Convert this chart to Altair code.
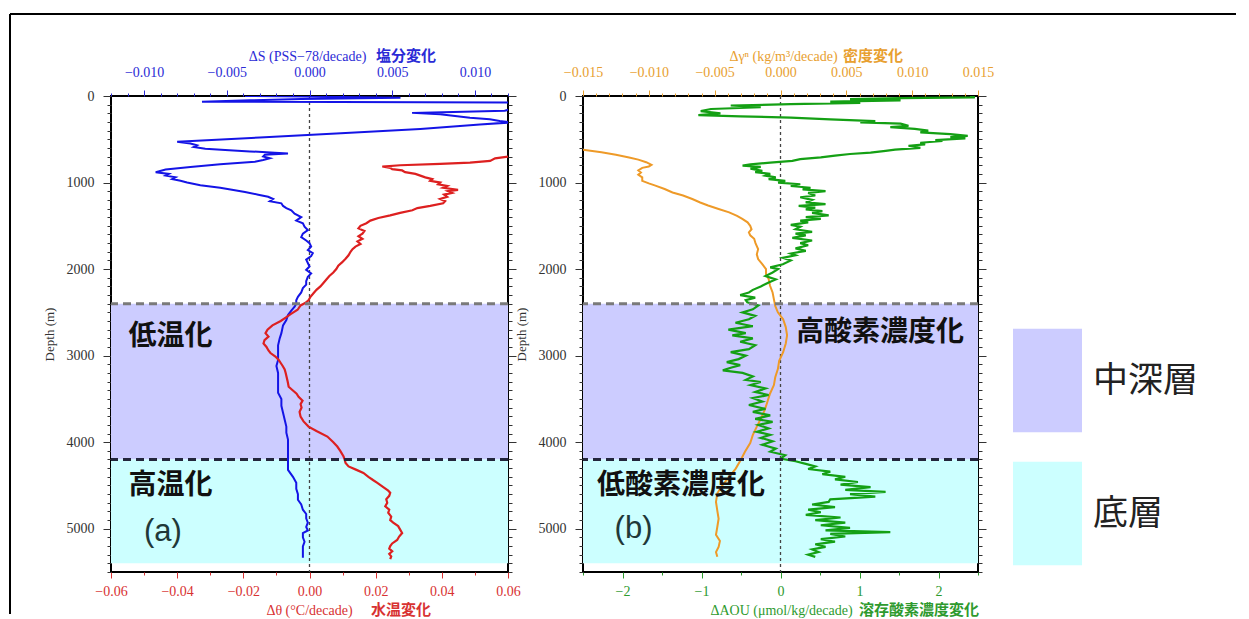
import altair as alt
import pandas as pd

# ---------------- data ----------------
temp_depth = [700, 720, 750, 770, 785, 800, 815, 830, 845, 860, 880, 900, 920, 940, 960, 980, 1000, 1020, 1040, 1060,
              1085, 1100, 1120, 1140, 1165, 1190, 1215, 1240, 1270, 1295, 1320, 1350, 1380, 1410, 1440, 1470, 1500,
              1530, 1560, 1590, 1620, 1650, 1680, 1710, 1740, 1770, 1800, 1840, 1880, 1920, 1960, 2000, 2040, 2080,
              2120, 2160, 2200, 2240, 2280, 2320, 2360, 2390, 2420, 2470, 2520, 2560, 2600, 2650, 2700, 2740, 2780,
              2820, 2860, 2900, 2940, 2970, 3010, 3050, 3085, 3120, 3160, 3200, 3250, 3300, 3360, 3400, 3440, 3475,
              3520, 3560, 3600, 3650, 3705, 3760, 3820, 3870, 3935, 4000, 4050, 4100, 4165, 4200, 4240, 4280, 4320,
              4355, 4400, 4440, 4470, 4520, 4560, 4585, 4620, 4660, 4700, 4740, 4780, 4815, 4860, 4900, 4930, 4970,
              5010, 5050, 5090, 5130, 5170, 5200, 5230, 5260, 5290, 5320, 5350]
temp_val = [0.0600, 0.0561, 0.0546, 0.0485, 0.0395, 0.0274, 0.0220, 0.0244, 0.0250, 0.0280, 0.0289, 0.0320, 0.0335,
            0.0350, 0.0371, 0.0365, 0.0395, 0.0389, 0.0416, 0.0404, 0.0449, 0.0419, 0.0431, 0.0407, 0.0416, 0.0395,
            0.0410, 0.0404, 0.0365, 0.0326, 0.0311, 0.0274, 0.0244, 0.0208, 0.0184, 0.0172, 0.0154, 0.0148, 0.0166,
            0.0160, 0.0148, 0.0160, 0.0145, 0.0154, 0.0139, 0.0130, 0.0124, 0.0118, 0.0109, 0.0099, 0.0087, 0.0081,
            0.0072, 0.0060, 0.0051, 0.0042, 0.0033, 0.0021, 0.0012, 0.0003, -0.0003, -0.0012, -0.0027, -0.0036,
            -0.0057, -0.0072, -0.0087, -0.0112, -0.0127, -0.0133, -0.0124, -0.0136, -0.0139, -0.0130, -0.0124,
            -0.0118, -0.0103, -0.0093, -0.0087, -0.0081, -0.0075, -0.0072, -0.0069, -0.0066, -0.0063, -0.0051,
            -0.0039, -0.0033, -0.0021, -0.0027, -0.0024, -0.0030, -0.0027, -0.0018, -0.0003, 0.0021, 0.0054, 0.0072,
            0.0084, 0.0093, 0.0103, 0.0106, 0.0109, 0.0118, 0.0142, 0.0163, 0.0178, 0.0193, 0.0205, 0.0223, 0.0238,
            0.0244, 0.0241, 0.0232, 0.0235, 0.0229, 0.0241, 0.0238, 0.0247, 0.0244, 0.0253, 0.0268, 0.0274, 0.0280,
            0.0271, 0.0265, 0.0250, 0.0244, 0.0241, 0.0250, 0.0241, 0.0247, 0.0244]

sal_depth = [0, 10, 20, 35, 50, 65, 75, 100, 140, 170, 195, 210, 230, 250, 270, 290, 305, 330, 380, 430, 480, 530,
             550, 570, 590, 610, 625, 640, 655, 665, 680, 700, 720, 740, 760, 790, 820, 850, 880, 900, 920, 940, 960,
             980, 1000, 1030, 1060, 1085, 1110, 1140, 1165, 1190, 1215, 1240, 1270, 1295, 1320, 1360, 1400, 1440,
             1470, 1510, 1550, 1590, 1630, 1670, 1700, 1740, 1780, 1815, 1850, 1890, 1930, 1970, 2010, 2050, 2090,
             2140, 2180, 2220, 2270, 2320, 2360, 2400, 2435, 2480, 2530, 2590, 2650, 2740, 2800, 2880, 2970, 3050,
             3120, 3200, 3280, 3350, 3430, 3500, 3580, 3660, 3740, 3820, 3890, 3970, 4050, 4120, 4200, 4260, 4320,
             4400, 4470, 4540, 4600, 4665, 4720, 4780, 4830, 4880, 4930, 4980, 5020, 5050, 5100, 5150, 5205, 5260,
             5300, 5335]
sal_val = [-0.0039, 0.0013, 0.0055, -0.0005, -0.0036, -0.0065, 0.0125, 0.0127, 0.0124, 0.0118, 0.0062, 0.0079,
           0.0088, 0.0097, 0.0109, 0.0115, 0.0122, 0.0103, 0.0067, 0.0019, -0.0030, -0.0080, -0.0072, -0.0068,
           -0.0070, -0.0063, -0.0051, -0.0036, -0.0021, -0.0013, -0.0027, -0.0028, -0.0024, -0.0028, -0.0033,
           -0.0054, -0.0072, -0.0087, -0.0093, -0.0085, -0.0087, -0.0081, -0.0083, -0.0078, -0.0074, -0.0066,
           -0.0054, -0.0046, -0.0039, -0.0031, -0.0025, -0.0022, -0.0024, -0.0017, -0.0016, -0.0014, -0.0011,
           -0.0009, -0.0005, -0.0008, -0.0004, -0.0003, -0.0001, -0.0004, -0.0005, -0.0002, 0.0000, 0.0001, -0.0001,
           0.0002, 0.0001, -0.0002, -0.0001, 0.0000, -0.0002, 0.0001, -0.0001, -0.0002, -0.0002, -0.0004, -0.0005,
           -0.0007, -0.0008, -0.0008, -0.0009, -0.0011, -0.0013, -0.0014, -0.0016, -0.0017, -0.0018, -0.0019,
           -0.0019, -0.0019, -0.0020, -0.0019, -0.0019, -0.0019, -0.0019, -0.0017, -0.0017, -0.0016, -0.0015,
           -0.0014, -0.0014, -0.0013, -0.0013, -0.0013, -0.0013, -0.0013, -0.0013, -0.0010, -0.0008, -0.0008,
           -0.0007, -0.0007, -0.0005, -0.0004, -0.0002, -0.0002, -0.0001, -0.0002, -0.0001, -0.0004, -0.0004,
           -0.0003, -0.0004, -0.0004, -0.0004, -0.0004]

dens_depth = [620, 650, 680, 710, 735, 765, 795, 815, 830, 860, 885, 910, 940, 980, 1010, 1035, 1075, 1115, 1150,
              1190, 1230, 1265, 1305, 1345, 1385, 1420, 1460, 1500, 1540, 1575, 1610, 1650, 1700, 1770, 1830, 1885,
              1940, 2000, 2060, 2115, 2190, 2270, 2350, 2425, 2500, 2580, 2670, 2765, 2860, 2960, 3060, 3155, 3250,
              3340, 3440, 3535, 3630, 3730, 3820, 3915, 4010, 4110, 4200, 4305, 4400, 4495, 4590, 4690, 4790, 4885,
              4980, 5070, 5140, 5210, 5270, 5325]
dens_val = [-0.0150, -0.0136, -0.0125, -0.0115, -0.0108, -0.0102, -0.0098, -0.0100, -0.0105, -0.0108, -0.0106,
            -0.0108, -0.0105, -0.0105, -0.0100, -0.0095, -0.0088, -0.0082, -0.0074, -0.0067, -0.0061, -0.0055,
            -0.0047, -0.0039, -0.0033, -0.0029, -0.0025, -0.0023, -0.0022, -0.0024, -0.0023, -0.0020, -0.0019,
            -0.0017, -0.0018, -0.0017, -0.0014, -0.0011, -0.0011, -0.0009, -0.0008, -0.0006, -0.0005, -0.0004,
            -0.0002, 0.0002, 0.0004, 0.0005, 0.0004, 0.0002, -0.0001, -0.0002, -0.0004, -0.0005, -0.0008, -0.0010,
            -0.0012, -0.0015, -0.0018, -0.0021, -0.0023, -0.0027, -0.0030, -0.0034, -0.0039, -0.0044, -0.0048,
            -0.0049, -0.0048, -0.0047, -0.0048, -0.0049, -0.0046, -0.0047, -0.0049, -0.0048]

aou_depth = [0, 15, 25, 35, 50, 65, 80, 95, 110, 130, 150, 175, 200, 220, 235, 250, 270, 290, 305, 320, 345, 360,
             380, 400, 420, 440, 460, 475, 490, 510, 520, 540, 560, 575, 600, 620, 635, 655, 670, 690, 710, 730, 750,
             770, 790, 805, 820, 840, 865, 880, 900, 920, 940, 960, 980, 1000, 1020, 1040, 1060, 1080, 1100, 1120,
             1150, 1170, 1200, 1230, 1250, 1270, 1290, 1310, 1330, 1350, 1380, 1400, 1420, 1440, 1460, 1490, 1510,
             1540, 1570, 1590, 1610, 1640, 1670, 1700, 1725, 1760, 1790, 1820, 1840, 1870, 1900, 1945, 1980, 2000,
             2040, 2080, 2120, 2155, 2200, 2240, 2270, 2300, 2330, 2360, 2385, 2420, 2465, 2500, 2540, 2580, 2620,
             2660, 2700, 2740, 2765, 2800, 2840, 2880, 2925, 2960, 3000, 3040, 3075, 3110, 3140, 3170, 3200, 3240,
             3280, 3305, 3340, 3380, 3420, 3455, 3490, 3530, 3570, 3615, 3650, 3690, 3730, 3765, 3800, 3840, 3880,
             3915, 3950, 3990, 4030, 4075, 4110, 4150, 4190, 4220, 4250, 4280, 4310, 4340, 4370, 4400, 4430, 4460,
             4490, 4520, 4550, 4575, 4600, 4630, 4660, 4690, 4720, 4750, 4780, 4810, 4840, 4870, 4900, 4930, 4960,
             4990, 5020, 5040, 5060, 5090, 5120, 5150, 5180, 5210, 5240, 5270, 5300, 5325]
aou_val = [2.40, 2.46, 1.52, 0.88, 1.52, 0.63, 1.01, 0.13, -0.63, -0.25, -0.88, -1.01, -0.76, -1.04, -0.51, 0.13,
           0.63, 1.20, 1.01, 1.52, 1.62, 1.39, 1.70, 1.87, 1.77, 2.15, 2.37, 2.15, 2.34, 1.96, 2.05, 1.77, 1.83,
           1.62, 1.77, 1.45, 1.33, 1.14, 0.88, 0.69, 0.51, 0.25, 0.15, -0.13, -0.38, -0.48, -0.25, -0.38, -0.23,
           -0.32, -0.13, -0.19, -0.06, -0.15, 0.06, -0.03, 0.25, 0.13, 0.38, 0.28, 0.57, 0.35, 0.44, 0.25, 0.40,
           0.32, 0.57, 0.23, 0.44, 0.32, 0.53, 0.40, 0.61, 0.32, 0.51, 0.25, 0.35, 0.13, 0.25, 0.19, 0.40, 0.19,
           0.32, 0.15, 0.40, 0.25, 0.35, 0.19, 0.32, 0.13, 0.19, 0.03, 0.13, 0.03, -0.13, -0.03, -0.10, -0.19,
           -0.06, -0.15, -0.25, -0.35, -0.40, -0.51, -0.32, -0.44, -0.42, -0.28, -0.35, -0.48, -0.32, -0.40,
           -0.57, -0.35, -0.66, -0.44, -0.61, -0.35, -0.51, -0.32, -0.40, -0.63, -0.44, -0.53, -0.68, -0.51, -0.63,
           -0.73, -0.48, -0.35, -0.44, -0.25, -0.38, -0.19, -0.32, -0.15, -0.35, -0.23, -0.40, -0.19, -0.35,
           -0.13, -0.32, -0.10, -0.28, -0.15, -0.30, -0.13, -0.25, -0.10, -0.23, -0.06, -0.13, 0.06, 0.00, 0.19,
           0.32, 0.44, 0.35, 0.63, 0.53, 0.82, 0.69, 0.98, 0.76, 1.14, 0.82, 1.33, 0.88, 1.20, 0.63, 0.61, 0.40,
           0.69, 0.35, 0.51, 0.32, 0.76, 0.44, 0.82, 0.51, 0.88, 0.57, 1.39, 0.63, 0.82, 0.51, 0.69, 0.44, 0.57,
           0.40, 0.48, 0.35, 0.44]

zones = ["中深層", "底層"]
zone_top = [2400, 4200]
zone_bottom = [4200, 5400]
zone_colors = ["#ccccff", "#ccffff"]
bound_depth = [2400, 4200]
bound_kind = ["upper", "lower"]
bound_colors = ["#7a7a7a", "#23263c"]

ann_a_labels = ["低温化", "高温化"]
ann_a_x = [-0.042, -0.042]
ann_a_depth = [2790, 4510]
panel_a_tag = ["(a)"]
panel_a_tag_x = [-0.0443]
panel_a_tag_depth = [5040]

ann_b_labels = ["高酸素濃度化", "低酸素濃度化"]
ann_b_x = [1.26, -1.26]
ann_b_depth = [2740, 4510]
panel_b_tag = ["(b)"]
panel_b_tag_x = [-1.86]
panel_b_tag_depth = [5000]

depth_ticks = list(range(0, 5501, 100))
temp_ticks = [-0.06, -0.05, -0.04, -0.03, -0.02, -0.01, 0.0, 0.01, 0.02, 0.03, 0.04, 0.05, 0.06]
sal_ticks = [-0.012, -0.011, -0.010, -0.009, -0.008, -0.007, -0.006, -0.005, -0.004, -0.003, -0.002, -0.001, 0.0,
             0.001, 0.002, 0.003, 0.004, 0.005, 0.006, 0.007, 0.008, 0.009, 0.010, 0.011, 0.012]
dens_ticks = [-0.015, -0.014, -0.013, -0.012, -0.011, -0.010, -0.009, -0.008, -0.007, -0.006, -0.005, -0.004,
              -0.003, -0.002, -0.001, 0.0, 0.001, 0.002, 0.003, 0.004, 0.005, 0.006, 0.007, 0.008, 0.009, 0.010,
              0.011, 0.012, 0.013, 0.014, 0.015]
aou_ticks = [-2.5, -2.0, -1.5, -1.0, -0.5, 0.0, 0.5, 1.0, 1.5, 2.0, 2.5]

temp_title = "Δθ (°C/decade)"
temp_title_jp = ["水温変化"]
sal_title = "ΔS (PSS−78/decade)"
sal_title_jp = ["塩分変化"]
dens_title = "Δγⁿ (kg/m³/decade)"
dens_title_jp = ["密度変化"]
aou_title = "ΔAOU (μmol/kg/decade)"
aou_title_jp = ["溶存酸素濃度変化"]

# ---------------- tables ----------------
temp_df = pd.DataFrame({"depth": temp_depth, "v": temp_val})
sal_df = pd.DataFrame({"depth": sal_depth, "v": sal_val})
dens_df = pd.DataFrame({"depth": dens_depth, "v": dens_val})
aou_df = pd.DataFrame({"depth": aou_depth, "v": aou_val})
zone_df = pd.DataFrame({"zone": zones, "top": zone_top, "bottom": zone_bottom})
bound_df = pd.DataFrame({"depth": bound_depth, "kind": bound_kind})
zero_df = pd.DataFrame({"v": [0.0]})
one_df = pd.DataFrame({"a": [0]})

SERIF = "Liberation Serif"
CJK = "Noto Sans CJK JP"
W1, W2, H = 397, 395, 476
TITLE_Y = 38

yscale = alt.Scale(domain=[0, 5500], reverse=True, nice=False, zero=False)


def tick_cond(test, major, minor):
    return {"condition": {"test": test, "value": major}, "value": minor}


def left_axis():
    return alt.Axis(orient="left", values=depth_ticks, format="d",
                    labelExpr="datum.value % 1000 == 0 ? datum.label : ''",
                    tickSize=tick_cond("datum.value % 1000 == 0", 8, 4),
                    labelFont=SERIF, labelFontSize=14, labelColor="#333333", labelPadding=9,
                    labelFlush=False, labelOverlap=False, tickColor="#333333", domain=False, grid=False,
                    title="Depth (m)", titleFont=SERIF, titleFontSize=13, titleFontWeight="normal",
                    titleColor="#333333", titlePadding=10)


def right_axis():
    return alt.Axis(orient="right", values=depth_ticks, labels=False, title=None,
                    tickSize=tick_cond("datum.value % 1000 == 0", 8, 4),
                    tickColor="#333333", domain=False, grid=False)


def x_axis(orient, ticks, fmt, test, color, title, title_x, title_y, pad):
    return alt.Axis(orient=orient, values=ticks,
                    labelExpr=f"{test} ? format(datum.value, '{fmt}') : ''",
                    tickSize=tick_cond(test, 6, 3), tickColor=color,
                    labelFont=SERIF, labelFontSize=14, labelColor=color, labelPadding=pad,
                    labelFlush=False, labelOverlap=False, domain=False, grid=False,
                    title=title, titleFont=SERIF, titleFontSize=14, titleFontWeight="normal",
                    titleColor=color, titleX=title_x, titleY=title_y, titleBaseline="middle")


def panel(width, line_bottom, line_top, bottom_scale, top_scale, bottom_axis, top_axis,
          bottom_color, top_color, ann, tag, jp_top, jp_bottom, legend, frame):
    shade = alt.Chart(zone_df).mark_rect().encode(
        y=alt.Y("top:Q", scale=yscale, axis=None),
        y2="bottom:Q",
        color=alt.Color("zone:N", scale=alt.Scale(domain=zones, range=zone_colors), legend=legend),
    )
    zero = alt.Chart(zero_df).mark_rule(color="#444444", strokeWidth=1.3, strokeDash=[3, 3]).encode(
        x=alt.X("v:Q", scale=bottom_scale, axis=None)
    )
    top_line = alt.Chart(line_top).mark_line(color=top_color, strokeWidth=2, clip=True).encode(
        x=alt.X("v:Q", scale=top_scale, axis=top_axis),
        y=alt.Y("depth:Q", scale=yscale, axis=right_axis()),
        order=alt.Order("depth:Q"),
    )
    bottom_line = alt.Chart(line_bottom).mark_line(color=bottom_color, strokeWidth=2.2, clip=True).encode(
        x=alt.X("v:Q", scale=bottom_scale, axis=bottom_axis),
        y=alt.Y("depth:Q", scale=yscale, axis=left_axis()),
        order=alt.Order("depth:Q"),
    )
    bounds = alt.Chart(bound_df).mark_rule(strokeWidth=3, strokeDash=[8, 5]).encode(
        y=alt.Y("depth:Q", scale=yscale, axis=None),
        stroke=alt.Stroke("kind:N", scale=alt.Scale(domain=bound_kind, range=bound_colors), legend=None),
    )
    ann_layer = alt.Chart(ann).mark_text(font=CJK, fontSize=28, fontWeight="bold", color="#111111").encode(
        x=alt.X("x:Q", scale=bottom_scale, axis=None),
        y=alt.Y("depth:Q", scale=yscale, axis=None),
        text="label:N",
    )
    tag_layer = alt.Chart(tag).mark_text(font="Liberation Sans", fontSize=31, color="#1f3838").encode(
        x=alt.X("x:Q", scale=bottom_scale, axis=None),
        y=alt.Y("depth:Q", scale=yscale, axis=None),
        text="label:N",
    )
    jt_df, jt_color, jt_x = jp_top
    jb_df, jb_color, jb_x = jp_bottom
    jp_t = alt.Chart(jt_df).mark_text(font=CJK, fontSize=15, fontWeight="bold", color=jt_color,
                                      align="left", baseline="middle").encode(
        x=alt.value(jt_x), y=alt.value(-40), text="t:N")
    jp_b = alt.Chart(jb_df).mark_text(font=CJK, fontSize=15, fontWeight="bold", color=jb_color,
                                      align="left", baseline="middle").encode(
        x=alt.value(jb_x), y=alt.value(H + TITLE_Y), text="t:N")
    layers = [shade, zero, top_line, bottom_line, bounds, ann_layer, tag_layer, jp_t, jp_b] + frame
    return alt.layer(*layers).resolve_scale(x="independent", stroke="independent").resolve_axis(
        x="independent", y="independent").properties(width=width, height=H)


temp_scale = alt.Scale(domain=[-0.06, 0.06], nice=False, zero=False)
sal_scale = alt.Scale(domain=[-0.012, 0.012], nice=False, zero=False)
dens_scale = alt.Scale(domain=[-0.015, 0.015], nice=False, zero=False)
aou_scale = alt.Scale(domain=[-2.5, 2.5], nice=False, zero=False)

RED, BLUE, ORANGE, GREEN = "#d83232", "#2b2bd6", "#e8a030", "#2e9a2e"

frame = [
    alt.Chart(one_df).mark_rule(color="black", strokeWidth=2).encode(
        x=alt.value(-101), y=alt.value(-82), y2=alt.value(H + 42)),
    alt.Chart(one_df).mark_rule(color="black", strokeWidth=2).encode(
        x=alt.value(-101), x2=alt.value(1125), y=alt.value(-82)),
]

panel_a = panel(
    W1, temp_df, sal_df, temp_scale, sal_scale,
    x_axis("bottom", temp_ticks, ".2f", "abs(round(datum.value*100)) % 2 == 0", RED, temp_title, 198, TITLE_Y, 6),
    x_axis("top", sal_ticks, ".3f", "abs(round(datum.value*1000)) % 5 == 0", BLUE, sal_title, 196, -40, 11),
    "#dd2020", "#1414e6",
    pd.DataFrame({"label": ann_a_labels, "x": ann_a_x, "depth": ann_a_depth}),
    pd.DataFrame({"label": panel_a_tag, "x": panel_a_tag_x, "depth": panel_a_tag_depth}),
    (pd.DataFrame({"t": sal_title_jp}), BLUE, 265),
    (pd.DataFrame({"t": temp_title_jp}), RED, 260),
    None, frame,
)

legend_b = alt.Legend(orient="none", legendX=430, legendY=250, title=None, direction="vertical",
                      symbolType="M-1,-1.5H1V1.5H-1Z", symbolSize=4761, symbolStrokeWidth=0,
                      symbolOpacity=1, labelFont=CJK, labelFontSize=35, labelColor="#222222",
                      labelOffset=11, rowPadding=28, labelLimit=400)

panel_b = panel(
    W2, aou_df, dens_df, aou_scale, dens_scale,
    x_axis("bottom", aou_ticks, ".0f", "abs(round(datum.value*2)) % 2 == 0", GREEN, aou_title, 198, TITLE_Y, 6),
    x_axis("top", dens_ticks, ".3f", "abs(round(datum.value*1000)) % 5 == 0", ORANGE, dens_title, 200, -40, 11),
    "#14a014", "#ee9a28",
    pd.DataFrame({"label": ann_b_labels, "x": ann_b_x, "depth": ann_b_depth}),
    pd.DataFrame({"label": panel_b_tag, "x": panel_b_tag_x, "depth": panel_b_tag_depth}),
    (pd.DataFrame({"t": dens_title_jp}), ORANGE, 260),
    (pd.DataFrame({"t": aou_title_jp}), GREEN, 276),
    legend_b, [],
)

chart = alt.hconcat(panel_a, panel_b, spacing=75, bounds="flush").resolve_scale(
    color="independent", stroke="independent"
).properties(
    padding={"left": 0, "top": 4, "right": 0, "bottom": 0}
).configure_view(stroke="black", strokeWidth=2)

chart.save("out.html", embed_options={"renderer": "svg", "actions": False})
